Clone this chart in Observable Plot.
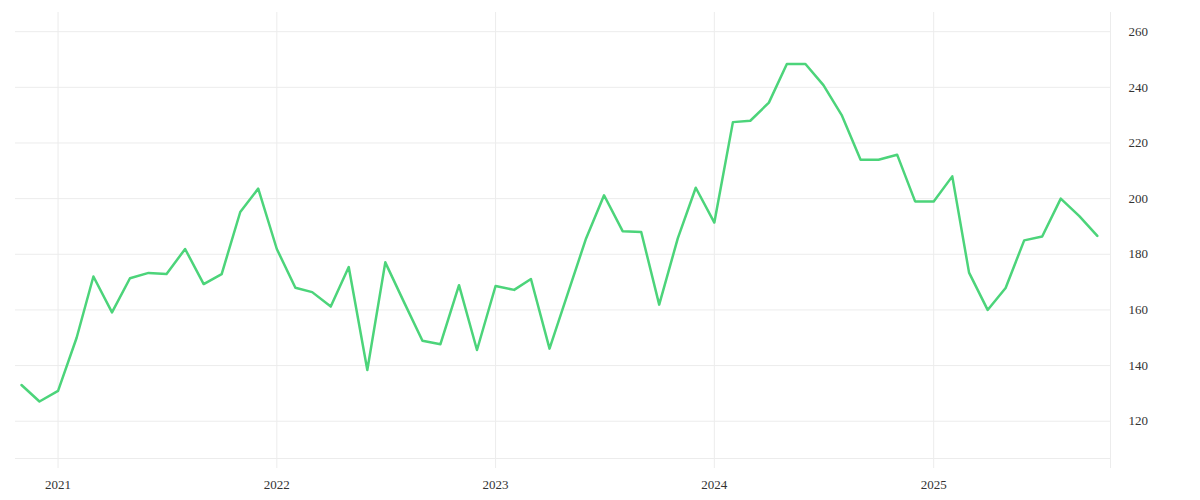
<!DOCTYPE html>
<html>
<head>
<meta charset="utf-8">
<script src="https://cdn.jsdelivr.net/npm/d3@7"></script>
<script src="https://cdn.jsdelivr.net/npm/@observablehq/plot@0.6"></script>
<style>
  html, body { margin: 0; padding: 0; background: #fff; }
</style>
</head>
<body>
<div id="chart"></div>
<script>
const months = [
  "2020-11","2020-12","2021-01","2021-02","2021-03","2021-04","2021-05","2021-06","2021-07","2021-08","2021-09","2021-10",
  "2021-11","2021-12","2022-01","2022-02","2022-03","2022-04","2022-05","2022-06","2022-07","2022-08","2022-09","2022-10",
  "2022-11","2022-12","2023-01","2023-02","2023-03","2023-04","2023-05","2023-06","2023-07","2023-08","2023-09","2023-10",
  "2023-11","2023-12","2024-01","2024-02","2024-03","2024-04","2024-05","2024-06","2024-07","2024-08","2024-09","2024-10",
  "2024-11","2024-12","2025-01","2025-02","2025-03","2025-04","2025-05","2025-06","2025-07","2025-08","2025-09","2025-10"
];
const values = [
  133.0,127.1,130.9,150.0,172.0,159.1,171.4,173.3,172.9,181.9,169.3,172.9,
  195.2,203.6,181.9,168.0,166.4,161.2,175.4,138.4,177.1,162.9,148.9,147.7,
  168.9,145.6,168.6,167.2,171.1,146.1,165.6,185.7,201.2,188.3,188.0,161.9,
  185.7,203.9,191.4,227.5,228.0,234.5,248.4,248.4,240.8,229.8,214.0,214.0,
  215.8,199.0,199.0,208.0,173.4,160.0,167.9,185.0,186.4,200.0,193.7,186.6
];
const xTickLabels = ["2021","2022","2023","2024","2025"];
const yTicks = [120,140,160,180,200,220,240,260];
const xDomain = ["2020-10-22","2025-10-23"];
const yDomain = [106.6, 266.9];

const parse = d3.utcParse("%Y-%m");
const data = months.map((m, i) => ({date: parse(m), value: values[i]}));
const xTicks = xTickLabels.map(y => d3.utcParse("%Y")(y));
const xDom = xDomain.map(d => d3.utcParse("%Y-%m-%d")(d));

const grid = "#ececec";

const chart = Plot.plot({
  width: 1200,
  height: 500,
  marginTop: 12,
  marginBottom: 42,
  marginLeft: 15,
  marginRight: 90,
  style: {fontFamily: "'Liberation Serif', serif", fontSize: "13px", color: "#333", background: "#fff"},
  x: {type: "utc", domain: xDom},
  y: {domain: yDomain},
  marks: [
    Plot.gridY({ticks: yTicks, stroke: grid, strokeOpacity: 1}),
    Plot.gridX({ticks: xTicks, stroke: grid, strokeOpacity: 1, insetBottom: -10}),
    Plot.frame({anchor: "bottom", stroke: grid}),
    Plot.ruleX([xDom[1]], {stroke: grid, insetBottom: -10}),
    Plot.axisX({ticks: xTicks, tickSize: 0, tickPadding: 21, tickFormat: "%Y", label: null}),
    Plot.axisY({anchor: "right", ticks: yTicks, tickSize: 0, tickPadding: 18, label: null}),
    Plot.line(data, {x: "date", y: "value", stroke: "#4cd47a", strokeWidth: 2.5})
  ]
});
document.getElementById("chart").appendChild(chart);
</script>
</body>
</html>
